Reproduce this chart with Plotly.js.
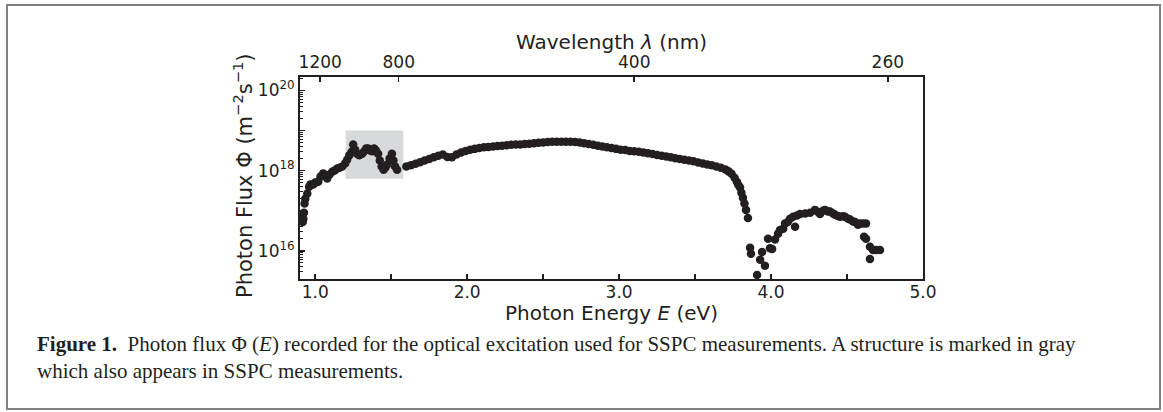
<!DOCTYPE html>
<html>
<head>
<meta charset="utf-8">
<script src="https://cdn.plot.ly/plotly-3.0.1.min.js"></script>
<style>
html,body{margin:0;padding:0;background:#fff;}
#wrap{position:relative;width:1163px;height:412px;overflow:hidden;}
#chart{position:absolute;left:0;top:0;width:1163px;height:412px;}
#frame{position:absolute;left:6px;top:4px;width:1151px;height:402px;border:2px solid #808080;pointer-events:none;}
</style>
</head>
<body>
<div id="wrap"><div id="chart"></div><div id="frame"></div></div>
<script>
// ---- data: photon energy (eV) and photon flux (m^-2 s^-1) ----
const energy = [
0.913,0.918,0.922,0.926,0.930,0.935,0.948,0.960,0.968,0.987,1.000,1.020,1.035,1.053,1.066,1.079,1.095,1.112,1.128,1.145,1.160,1.178,1.197,1.210,1.225,1.240,1.250,1.263,1.275,1.290,1.309,1.320,1.335,1.349,1.362,1.375,1.388,1.400,1.414,1.425,1.437,1.450,1.462,1.474,1.490,1.505,1.515,1.526,1.539,
1.60,1.63,1.66,1.69,1.72,1.75,1.78,1.81,1.84,1.87,1.90,1.93,1.96,1.99,2.02,2.05,2.08,2.11,2.14,2.17,2.20,2.23,2.26,2.29,2.32,2.35,2.38,2.41,2.44,2.47,2.50,2.53,2.56,2.59,2.62,2.65,2.68,2.71,2.74,2.77,2.80,2.83,2.86,2.89,2.92,2.95,2.98,3.01,3.04,3.07,3.10,3.13,3.16,3.19,3.22,3.25,3.28,3.31,3.34,3.37,3.40,3.43,3.46,3.49,3.52,3.55,3.58,3.61,3.64,3.67,3.70,3.72,3.74,3.76,3.775,3.785,3.796,3.805,3.815,3.825,3.835,3.848,
3.862,3.868,3.908,3.928,3.941,3.960,3.980,3.993,4.007,4.026,4.046,4.059,4.080,4.092,4.110,4.125,4.145,4.158,4.170,4.191,4.224,4.257,4.289,4.309,4.322,4.342,4.355,4.375,4.388,4.408,4.421,4.440,4.454,4.474,4.487,4.507,4.520,4.540,4.553,4.572,4.586,4.605,4.625,4.612,4.625,4.651,4.671,4.691,4.717,4.651
];
const flux = [
7.08e16,5.25e16,6.31e16,8.91e16,1.51e17,2.0e17,2.69e17,3.98e17,4.47e17,4.47e17,5.01e17,5.25e17,7.08e17,8.51e17,7.59e17,6.31e17,7.94e17,9.33e17,1.0e18,1.12e18,1.17e18,1.26e18,1.51e18,1.86e18,2.40e18,2.95e18,4.47e18,3.31e18,2.63e18,2.40e18,2.63e18,2.95e18,3.55e18,3.55e18,3.16e18,3.02e18,3.55e18,3.16e18,2.63e18,1.78e18,1.26e18,1.05e18,1.20e18,1.41e18,2.0e18,2.63e18,1.78e18,1.26e18,1.05e18,
1.26e18,1.35e18,1.48e18,1.62e18,1.78e18,1.95e18,2.14e18,2.34e18,2.51e18,2.19e18,2.14e18,2.51e18,2.82e18,3.09e18,3.31e18,3.47e18,3.63e18,3.80e18,3.89e18,3.98e18,4.07e18,4.17e18,4.27e18,4.37e18,4.47e18,4.47e18,4.57e18,4.68e18,4.79e18,4.90e18,5.01e18,5.13e18,5.25e18,5.25e18,5.25e18,5.25e18,5.25e18,5.13e18,5.01e18,4.79e18,4.57e18,4.37e18,4.17e18,3.98e18,3.80e18,3.63e18,3.47e18,3.31e18,3.24e18,3.09e18,3.02e18,2.95e18,2.82e18,2.69e18,2.57e18,2.45e18,2.34e18,2.24e18,2.14e18,2.04e18,1.95e18,1.86e18,1.78e18,1.70e18,1.58e18,1.51e18,1.41e18,1.35e18,1.26e18,1.17e18,1.07e18,9.55e17,8.32e17,6.61e17,5.25e17,4.37e17,3.80e17,2.82e17,2.09e17,1.51e17,1.05e17,6.61e16,
1.20e16,8.51e15,2.51e15,6.03e15,9.33e15,4.27e15,2.0e16,1.17e16,1.12e16,1.91e16,2.69e16,3.31e16,3.55e16,4.79e16,5.25e16,6.31e16,7.08e16,3.98e16,7.59e16,8.32e16,8.51e16,8.91e16,1.05e17,9.33e16,8.32e16,1.0e17,1.05e17,9.55e16,9.55e16,8.51e16,7.94e16,7.41e16,7.08e16,7.24e16,7.08e16,6.31e16,6.03e16,5.37e16,5.25e16,4.47e16,4.79e16,4.79e16,4.79e16,2.24e16,2.0e16,1.26e16,1.05e16,1.05e16,1.05e16,6.31e15
];
// bottom axis ticks (eV)
const energyTicks = [1.0,1.5,2.0,2.5,3.0,3.5,4.0,4.5,5.0];
const energyTickText = ['1.0','','2.0','','3.0','','4.0','','5.0'];
// top axis ticks (wavelength, nm)
const wavelengthTicks = [1200,800,400,260];
// y-axis decades
const fluxTicks = [1e16,1e17,1e18,1e19,1e20];
const fluxTickText = ['10<sup>16</sup>','','10<sup>18</sup>','','10<sup>20</sup>'];
// gray-marked structure
const structE = [1.2,1.58];
const structFlux = [6.3e17,1.0e19];

const HC = 1239.84; // eV*nm
const ink = '#231f20';
const font = 'DejaVu Sans, sans-serif';

// plot-area geometry in px (layout only)
const L = 300, R = 923, T = 77, B = 279;
const W = 1163, H = 412;
const px = x => (x - L) / (R - L);
const py = y => (B - y) / (B - T);

const traces = [
  {x: energy, y: flux, type: 'scatter', mode: 'markers',
   marker: {color: ink, size: 8.5, line: {width: 0}}, xaxis: 'x', yaxis: 'y', hoverinfo: 'x+y'},
  {x: [HC/wavelengthTicks[0]], y: [1e18], type: 'scatter', mode: 'markers',
   marker: {opacity: 0}, xaxis: 'x2', yaxis: 'y', hoverinfo: 'skip', showlegend: false}
];

const layout = {
  width: W, height: H,
  margin: {l: L, r: W - R, t: T, b: H - B, pad: 0},
  paper_bgcolor: '#fff', plot_bgcolor: '#fff',
  showlegend: false,
  font: {family: font, color: ink, size: 17},
  xaxis: {
    range: [0.9, 5.0], tickmode: 'array', tickvals: energyTicks, ticktext: energyTickText,
    ticks: 'inside', ticklen: 5, tickwidth: 1.5, tickcolor: ink, ticklabelstandoff: -3,
    showline: true, linecolor: ink, linewidth: 2, mirror: true,
    showgrid: false, zeroline: false, tickfont: {size: 17, family: font, color: ink}
  },
  xaxis2: {
    overlaying: 'x', side: 'top', range: [0.9, 5.0], tickmode: 'array',
    tickvals: wavelengthTicks.map(l => HC / l), ticktext: wavelengthTicks.map(String),
    ticks: 'inside', ticklen: 5, tickwidth: 1.5, tickcolor: ink,
    showline: true, linecolor: ink, linewidth: 2,
    showgrid: false, zeroline: false, tickfont: {size: 17, family: font, color: ink}
  },
  yaxis: {
    type: 'log', range: [15.3, 20.33], tickmode: 'array', tickvals: fluxTicks, ticktext: fluxTickText,
    ticks: 'inside', ticklen: 5, tickwidth: 1.5, tickcolor: ink,
    minor: {ticks: 'inside', ticklen: 2.5, tickwidth: 1, tickcolor: ink, dtick: 'D1', showgrid: false},
    showline: true, linecolor: ink, linewidth: 2, mirror: true,
    showgrid: false, zeroline: false, tickfont: {size: 17, family: font, color: ink}
  },
  shapes: [
    {type: 'rect', xref: 'x', yref: 'y', x0: structE[0], x1: structE[1], y0: structFlux[0], y1: structFlux[1],
     fillcolor: '#d8d9da', line: {width: 0}, layer: 'below'}
  ],
  annotations: [
    {text: 'Wavelength <i>λ</i> (nm)', xref: 'paper', yref: 'paper', x: px(611.5), y: py(42),
     xanchor: 'center', yanchor: 'middle', showarrow: false, font: {size: 20, family: font, color: ink}},
    {text: 'Photon Energy <i>E</i> (eV)', xref: 'paper', yref: 'paper', x: px(611.5), y: py(313),
     xanchor: 'center', yanchor: 'middle', showarrow: false, font: {size: 20, family: font, color: ink}},
    {text: 'Photon Flux Φ (m<sup>−2</sup>s<sup>−1</sup>)', xref: 'paper', yref: 'paper', x: px(243), y: py(176),
     xanchor: 'center', yanchor: 'middle', textangle: -90, showarrow: false, font: {size: 21, family: font, color: ink}},
    {text: '<b>Figure 1.</b>  Photon flux Φ (<i>E</i>) recorded for the optical excitation used for SSPC measurements. A structure is marked in gray',
     xref: 'paper', yref: 'paper', x: px(35), y: py(344), xanchor: 'left', yanchor: 'middle', align: 'left',
     showarrow: false, font: {size: 21, family: 'Liberation Serif, serif', color: ink}},
    {text: 'which also appears in SSPC measurements.',
     xref: 'paper', yref: 'paper', x: px(35), y: py(371), xanchor: 'left', yanchor: 'middle', align: 'left',
     showarrow: false, font: {size: 21, family: 'Liberation Serif, serif', color: ink}}
  ]
};

Plotly.newPlot('chart', traces, layout, {staticPlot: true, displayModeBar: false});
</script>
</body>
</html>
